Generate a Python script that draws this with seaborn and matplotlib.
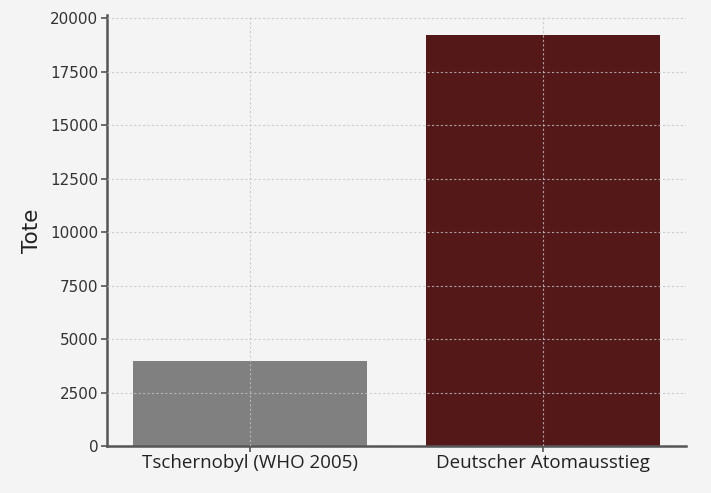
import pandas as pd
import matplotlib.pyplot as plt
import seaborn as sns

categories = ["Tschernobyl (WHO 2005)", "Deutscher Atomausstieg"]
deaths = [4000, 19200]
bar_colors = ["#808080", "#541819"]

sns.set_theme(style="whitegrid")
plt.rcParams["font.family"] = ["DejaVu Sans"]

df = pd.DataFrame({"Ereignis": categories, "Tote": deaths})

fig = plt.figure(figsize=(7.11, 4.93), dpi=100, facecolor="#f4f4f4")
ax = fig.add_axes([0.150, 0.095, 0.815, 0.875])
ax.set_facecolor("#f4f4f4")

sns.barplot(data=df, x="Ereignis", y="Tote", hue="Ereignis",
            palette=bar_colors, width=0.8, saturation=1, legend=False,
            linewidth=0, ax=ax)

ax.set_xlim(-0.49, 1.49)
ax.set_ylim(0, 20160)
ax.set_yticks(range(0, 20001, 2500))
ax.grid(True, linestyle=(0, (2, 2)), color="#c4c4c4", linewidth=0.8)
ax.set_axisbelow(False)
for p in ax.patches:
    p.set_zorder(1)
for line in ax.get_xgridlines() + ax.get_ygridlines():
    line.set_zorder(2)
    line.set_alpha(0.8)

for side in ["top", "right"]:
    ax.spines[side].set_visible(False)
for side in ["left", "bottom"]:
    ax.spines[side].set_color("#555555")
    ax.spines[side].set_linewidth(1.8)

ax.tick_params(axis="both", which="both", length=4, width=1.2, pad=2,
               color="#555555", labelcolor="#333333", left=True, bottom=True)
ax.tick_params(axis="y", labelsize=11)
ax.set_xlabel("")
ax.set_ylabel("Tote", fontsize=15.5, color="#222222", labelpad=6)
for lbl in ax.get_xticklabels():
    lbl.set_fontfamily(["Open Sans", "DejaVu Sans"])
    lbl.set_fontsize(13.5)
    lbl.set_color("#222222")

fig.savefig("out.png", dpi=100, facecolor=fig.get_facecolor())
